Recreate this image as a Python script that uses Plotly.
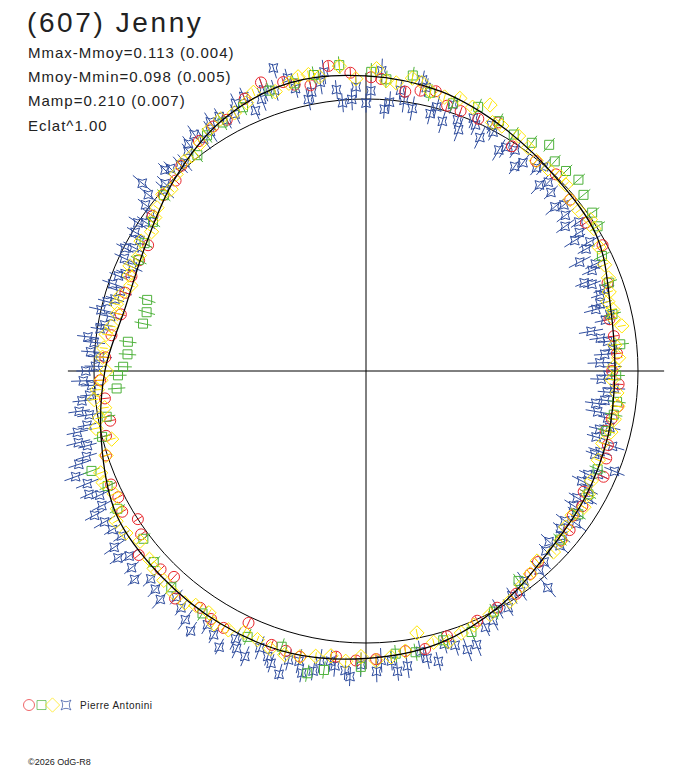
import plotly.graph_objects as go

# (607) Jenny - polar lightcurve: angle = rotation phase (deg), radius = relative flux (% of mean)
CURVE_PHASE = [0, 15, 30, 45, 60, 75, 90, 105, 120, 135, 150, 165,
               180, 195, 210, 225, 240, 255, 270, 285, 300, 315, 330, 345]
CURVE_FLUX = [108.5, 106.4, 102.6, 99.6, 98.2, 93.0, 91.5, 92.1, 93.0, 94.5, 99.3, 103.7,
              105.7, 107.4, 107.2, 106.6, 105.9, 100.7, 96.0, 91.5, 93.4, 99.6, 106.2, 109.6]

RED_PHASE = [3, 8, 14, 20, 24, 33, 39, 50, 62, 78, 86, 93, 98, 104, 110, 114, 119, 125, 131, 138,
             146, 156, 163, 172, 178, 186, 193, 199, 205, 209, 215, 220, 226, 231, 234, 237, 243,
             246, 252, 259, 264, 268, 273, 278, 292, 300, 306, 311, 318, 324, 331, 336, 340, 344,
             349, 353, 357,
             1, 11, 17, 28, 44, 56, 70, 82, 90, 101, 107, 122, 128, 141, 151, 168, 182, 196, 212,
             223, 240, 256, 283, 288, 296, 315, 328, 346]
RED_FLUX = [107.5, 103.7, 106.0, 101.7, 101.5, 98.5, 99.3, 98.0, 98.5, 91.5, 92.5, 93.0, 93.5, 90.8,
            94.0, 95.6, 91.5, 92.8, 95.0, 94.5, 98.8, 100.5, 102.0, 104.0, 106.0, 105.6, 107.8,
            106.5, 102.2, 108.0, 106.3, 109.2, 105.0, 107.5, 102.2, 100.0, 102.2, 102.6, 100.5,
            95.8, 96.5, 97.8, 96.0, 94.5, 93.0, 92.5, 97.0, 98.6, 101.5, 104.5, 105.6, 109.6,
            112.9, 110.5, 107.0, 113.0, 109.8,
            108.0, 105.0, 102.0, 103.5, 100.5, 97.5, 94.5, 92.0, 90.5, 92.0, 93.0, 93.8, 95.0,
            96.0, 99.5, 104.5, 106.5, 107.0, 107.5, 103.5, 103.5, 98.5, 92.5, 93.0, 92.8, 99.0,
            106.0, 108.5]
RED_ERR = 1.8

GREEN_PHASE = [4, 9, 13, 18, 28, 36, 39, 42, 45, 48, 51, 58, 64, 84, 91, 97, 104, 113, 124, 144,
               152, 164, 174, 181, 188, 191, 197, 214, 233, 241, 250, 260, 266, 269, 271, 274,
               277, 282, 285, 288, 296, 305, 322, 326, 335, 341, 350, 355,
               1, 23, 32, 55, 70, 77, 100, 119, 131, 158, 170, 204, 222, 228, 246, 256, 300, 311,
               330, 346]
GREEN_FLUX = [107.5, 110.0, 105.0, 103.5, 104.0, 103.7, 107.0, 103.7, 104.0, 105.1, 102.9, 100.4,
              96.5, 94.0, 92.0, 93.0, 91.0, 92.5, 94.2, 95.4, 100.2, 103.0, 104.5, 108.8, 111.0,
              113.2, 106.0, 107.5, 102.5, 104.5, 107.4, 96.8, 91.9, 91.2, 89.3, 87.9, 88.2, 83.8,
              83.5, 84.6, 93.0, 95.6, 100.7, 104.5, 107.0, 109.0, 110.5, 112.9,
              110.0, 105.5, 102.5, 101.5, 95.0, 93.0, 92.5, 93.5, 94.5, 103.5, 105.0, 107.0, 107.0,
              105.0, 104.0, 100.0, 94.0, 98.5, 105.5, 109.0]
GREEN_ERR = 3.2

YELLOW_PHASE = [2, 6, 11, 16, 22, 25, 29, 36, 42, 47, 53, 58, 66, 72, 76, 80, 84, 89, 95, 101,
                107, 116, 122, 128, 134, 141, 148, 153, 160, 166, 169, 175, 181, 184, 190, 196,
                202, 208, 213, 218, 224, 229, 233, 239, 244, 249, 255, 258, 262, 266, 270, 275,
                280, 283, 287, 290, 294, 297, 303, 308, 313, 316, 321, 327, 333, 338, 342, 347,
                351, 355, 358,
                4, 9, 13, 19, 27, 33, 39, 45, 50, 56, 62, 69, 74, 78, 87, 92, 98, 104, 111, 119,
                125, 131, 138, 144, 157, 163, 172, 178, 187, 193, 199, 205, 211, 216, 221, 227,
                236, 241, 247, 252, 260, 264, 268, 273, 278, 285, 292, 300, 306, 311, 319, 324,
                330, 336, 345, 349]
YELLOW_FLUX = [111.2, 106.5, 108.0, 104.8, 104.6, 107.9, 103.0, 101.5, 100.0, 100.4, 98.0, 98.8,
               96.0, 94.0, 93.5, 95.5, 92.0, 91.2, 92.6, 93.0, 91.0, 92.2, 94.5, 93.2, 95.8, 96.0,
               99.8, 100.5, 102.5, 102.8, 98.1, 105.5, 105.0, 107.0, 106.5, 108.5, 106.5, 107.8,
               106.0, 108.2, 107.0, 105.5, 104.0, 107.2, 103.0, 104.5, 96.8, 101.5, 97.0, 99.0,
               95.5, 96.8, 95.0, 93.8, 94.5, 92.0, 95.0, 93.5, 94.0, 97.5, 98.0, 100.5, 101.8,
               105.8, 106.5, 110.5, 108.0, 111.0, 109.5, 112.5, 107.5,
               107.0, 109.0, 105.5, 106.0, 102.5, 103.0, 99.5, 101.0, 98.0, 99.5, 97.0, 95.5, 92.5,
               93.0, 93.0, 90.5, 93.5, 92.8, 91.5, 93.5, 92.5, 95.0, 94.0, 97.5, 101.5, 104.0,
               104.0, 106.5, 105.5, 107.8, 108.0, 106.0, 108.5, 106.5, 108.0, 106.5, 106.5, 104.5,
               105.0, 100.5, 99.5, 100.5, 97.5, 97.0, 96.5, 95.0, 94.0, 95.5, 96.0, 99.0, 102.0,
               103.5, 107.0, 108.0, 109.5, 111.0]
YELLOW_ERR = 1.5

BLUE_PHASE = [0, 3, 5, 7, 10, 12, 15, 17, 20, 23,
              26, 28, 31, 34, 37, 40, 43, 46, 49, 52,
              55, 58, 61, 63, 66, 69, 72, 75, 78, 80,
              83, 86, 89, 92, 95, 98, 101, 104, 107, 110,
              112, 115, 118, 121, 124, 127, 130, 133, 137, 140,
              143, 147, 151, 155, 158, 162, 166, 169, 172, 175,
              178, 181, 184, 187, 190, 193, 196, 199, 203, 206,
              210, 214, 218, 222, 226, 230, 233, 236, 240, 243,
              246, 250, 253, 256, 259, 262, 265, 268, 271, 274,
              277, 280, 283, 286, 289, 292, 295, 298, 301, 304,
              307, 310, 313, 316, 319, 322, 325, 328, 331, 334,
              337, 340, 343, 346, 349, 352, 355, 358,
              1, 4, 8, 11, 14, 18, 21, 24, 27, 32,
              36, 41, 44, 50, 54, 57, 60, 65, 68, 71, 74, 77, 82, 85, 88, 91, 94, 97, 100,
              103, 106, 109, 114, 117, 120, 123, 126, 129, 132, 135, 139, 145, 149, 153, 160,
              164, 168, 174, 177,
              183, 186, 189, 192, 195, 198, 201, 205, 208, 212, 216, 220, 224, 228, 232, 235,
              238, 242, 245, 248, 252, 255, 258, 261, 264, 267, 270, 273, 276, 279,
              282, 285, 288, 291, 294, 297, 300, 303, 306, 309, 312, 315, 318, 321, 324, 327,
              330, 333, 336, 339, 342, 345, 348, 351, 354, 357]
BLUE_FLUX = [98.5, 110.5, 99.2, 104.0, 98.0, 106.5, 100.5, 96.0, 98.3, 101.0,
             95.5, 99.5, 94.8, 98.0, 95.9, 97.5, 93.5, 94.5, 92.0, 93.0,
             95.5, 90.5, 92.5, 88.2, 91.0, 89.0, 90.5, 87.5, 90.0, 84.0,
             89.5, 88.0, 90.5, 86.5, 89.0, 85.3, 90.5, 88.5, 94.8, 89.5,
             98.5, 90.0, 92.5, 90.5, 93.0, 91.5, 94.5, 92.0, 96.0, 104.0,
             96.5, 98.5, 100.0, 104.0, 108.5, 106.0, 110.0, 105.0, 109.5, 107.0,
             110.5, 108.0, 110.4, 107.5, 112.0, 109.5, 116.0, 111.0, 114.0, 109.5,
             112.0, 115.3, 110.5, 113.0, 110.0, 112.5, 114.2, 108.5, 111.0, 109.0,
             111.5, 113.6, 107.5, 109.0, 104.5, 106.5, 102.0, 104.0, 99.5, 101.5,
             103.0, 97.5, 100.0, 96.0, 98.5, 95.5, 98.0, 96.5, 99.0, 97.5,
             101.5, 107.4, 101.0, 103.5, 101.5, 106.0, 104.0, 108.0, 105.5, 109.5,
             104.0, 110.0, 116.5, 107.0, 104.5, 111.0, 99.0, 104.5,
             103.0, 96.5, 100.5, 109.0, 97.5, 103.0, 95.0, 99.0, 101.5, 97.0,
             93.0, 99.5, 96.5, 95.0, 90.5, 93.5, 95.0, 93.0, 86.5, 92.5, 89.5, 92.0, 87.0, 91.0,
             86.0, 89.0, 91.5, 88.5, 86.5,
             92.0, 88.0, 91.0, 93.5, 89.0, 94.5, 91.0, 95.5, 92.0, 96.0, 93.5, 97.0, 99.0, 101.5,
             103.0, 109.0, 104.5, 108.0, 111.0, 106.5,
             112.5, 109.0, 108.0, 113.5, 110.0, 113.0, 109.0, 112.5, 115.0, 110.0, 113.0, 108.5,
             111.5, 114.5, 110.5, 113.0, 110.0, 113.0, 108.0, 110.5, 111.0, 106.0, 108.5, 103.0,
             105.0, 101.0, 103.0, 98.0, 100.5, 99.0,
             96.0, 98.5, 95.0, 97.5, 94.0, 99.5, 96.0, 100.0, 98.0, 103.0, 99.5, 104.5, 102.0,
             104.0, 107.5, 105.0, 108.0, 106.0, 110.5, 107.0, 108.5, 111.5, 102.0, 107.5, 104.0,
             100.0]
BLUE_ERR = [3.5, 4.5, 4.0, 3.5, 4.5, 3.5, 4.0, 4.5, 3.5, 4.0,
            4.5, 3.5, 4.5, 3.5, 4.0, 3.5, 4.5, 3.5, 4.5, 4.0,
            3.5, 4.5, 3.5, 4.5, 4.0, 3.5, 3.5, 4.5, 4.0, 4.5,
            3.5, 4.0, 3.5, 4.0, 3.5, 4.0, 3.5, 4.0, 4.5, 3.5,
            4.0, 3.5, 4.0, 3.5, 3.5, 4.0, 3.5, 4.0, 3.5, 4.5,
            4.0, 3.5, 4.0, 3.5, 4.5, 4.0, 3.5, 4.0, 4.5, 3.5,
            4.0, 4.5, 3.5, 4.0, 3.5, 4.5, 4.0, 3.5, 4.0, 4.5,
            3.5, 4.0, 3.5, 4.5, 4.0, 3.5, 4.0, 3.5, 4.5, 4.0,
            3.5, 4.5, 4.0, 4.5, 3.5, 4.0, 3.5, 4.5, 4.0, 3.5,
            4.0, 3.5, 4.5, 3.5, 4.0, 3.5, 4.0, 4.5, 3.5, 4.0,
            3.5, 4.5, 4.0, 3.5, 4.0, 3.5, 4.5, 4.0, 3.5, 4.0,
            3.5, 4.5, 4.0, 3.5, 4.0, 4.5, 3.5, 4.0,
            4.0, 3.5, 4.5, 3.5, 4.0, 3.5, 4.5, 4.0, 3.5, 4.5,
            3.5, 4.0, 4.5, 3.5, 4.0, 3.5, 4.5, 4.0, 3.5, 4.0, 4.5, 3.5, 4.0, 3.5, 4.5, 3.5,
            4.0, 3.5, 4.5,
            4.0, 3.5, 4.5, 3.5, 4.0, 3.5, 4.0, 4.5, 3.5, 4.0, 3.5, 4.5, 4.0, 3.5, 4.0, 4.5,
            3.5, 4.0, 3.5, 4.5,
            3.5, 4.0, 4.5, 3.5, 4.0, 3.5, 4.5, 4.0, 3.5, 4.0, 4.5, 3.5, 4.0, 3.5, 4.0, 4.5,
            3.5, 4.0, 3.5, 4.5, 4.0, 3.5, 4.0, 4.5, 3.5, 4.0, 3.5, 4.5, 4.0, 3.5,
            4.0, 3.5, 4.5, 3.5, 4.0, 3.5, 4.5, 4.0, 3.5, 4.0, 4.5, 3.5, 4.0, 3.5, 4.0, 4.5,
            3.5, 4.0, 3.5, 4.5, 4.0, 3.5, 4.0, 4.5, 3.5, 4.0]

STATS = ["Mmax-Mmoy=0.113 (0.004)", "Mmoy-Mmin=0.098 (0.005)", "Mamp=0.210 (0.007)", "Eclat^1.00"]

RED = "#e8262b"
GREEN = "#4fb23c"
YELLOW = "#ffe600"
BLUE = "#2f4d9e"

# geometry (pixels)
W, H = 688, 768
CX, CY = 366, 371
PX_PER_UNIT = 2.72          # radius of the mean-flux circle = 272 px
R_MAX = 118.0
CROSS = 109.6
RPX = R_MAX * PX_PER_UNIT


def error_segments(phase, flux, err):
    th, rr = [], []
    for p, f, e in zip(phase, flux, err):
        th += [p, p, None]
        rr += [f - e, f + e, None]
    return th, rr


fig = go.Figure()

# cross hair
fig.add_trace(go.Scatterpolar(theta=[0, 180], r=[CROSS, CROSS], mode="lines",
                              line=dict(color="black", width=1), hoverinfo="skip"))
fig.add_trace(go.Scatterpolar(theta=[90, 270], r=[CROSS, CROSS], mode="lines",
                              line=dict(color="black", width=1), hoverinfo="skip"))

# blue first (underneath), then the others
series = [
    (BLUE_PHASE, BLUE_FLUX, BLUE_ERR, BLUE, "star-square-open", 8),
    (RED_PHASE, RED_FLUX, [RED_ERR] * len(RED_PHASE), RED, "circle-open", 11),
    (GREEN_PHASE, GREEN_FLUX, [GREEN_ERR] * len(GREEN_PHASE), GREEN, "square-open", 9),
    (YELLOW_PHASE, YELLOW_FLUX, [YELLOW_ERR] * len(YELLOW_PHASE), YELLOW, "diamond-open", 11),
]

for ph, fl, er, col, sym, size in series:
    th, rr = error_segments(ph, fl, er)
    fig.add_trace(go.Scatterpolar(theta=th, r=rr, mode="lines", connectgaps=False,
                                  line=dict(color=col, width=1), hoverinfo="skip"))
    fig.add_trace(go.Scatterpolar(theta=ph, r=fl, mode="markers", cliponaxis=False,
                                  marker=dict(symbol=sym, size=size, color=col,
                                              line=dict(color=col, width=1))))

# fitted lightcurve
fig.add_trace(go.Scatterpolar(theta=CURVE_PHASE + CURVE_PHASE[:1], r=CURVE_FLUX + CURVE_FLUX[:1],
                              mode="lines", line=dict(color="black", width=1.3, shape="spline"),
                              hoverinfo="skip"))

# legend key, bottom left
fig.add_trace(go.Scatter(x=[29, 41.5, 52.5, 66], y=[0.5] * 4, mode="markers",
                         marker=dict(symbol=["circle-open", "square-open", "diamond-open", "star-square-open"],
                                     size=[11, 9, 11, 9], color=[RED, GREEN, YELLOW, BLUE],
                                     line=dict(width=1, color=[RED, GREEN, YELLOW, BLUE])),
                         xaxis="x", yaxis="y", hoverinfo="skip"))

font = "Liberation Sans, Arial, sans-serif"
ann = [dict(text='<span style="letter-spacing:2.6px">(607) Jenny</span>', x=25 / W, y=1 - 23 / H,
            font=dict(family=font, size=28, color="#222222"))]
for i, s in enumerate(STATS):
    ann.append(dict(text='<span style="letter-spacing:1px">%s</span>' % s, x=26 / W,
                    y=1 - (52 + 24.4 * i) / H, font=dict(family=font, size=15, color="#222222")))
ann.append(dict(text='<span style="letter-spacing:0.5px">Pierre Antonini</span>', x=78 / W, y=1 - 705 / H,
                font=dict(family=font, size=10, color="#222222")))
ann.append(dict(text="©2026 OdG-R8", x=26 / W, y=1 - 762 / H,
                font=dict(family=font, size=9, color="#222222")))
for a in ann:
    a.update(xref="paper", yref="paper", xanchor="left", yanchor="middle", showarrow=False)

fig.update_layout(
    width=W, height=H, margin=dict(l=0, r=0, t=0, b=0),
    paper_bgcolor="white", plot_bgcolor="rgba(0,0,0,0)", showlegend=False,
    annotations=ann,
    polar=dict(
        domain=dict(x=[(CX - RPX) / W, (CX + RPX) / W],
                    y=[(H - CY - RPX) / H, (H - CY + RPX) / H]),
        bgcolor="rgba(0,0,0,0)",
        angularaxis=dict(rotation=90, direction="clockwise", showgrid=False, showline=False,
                         showticklabels=False, ticks=""),
        radialaxis=dict(range=[0, R_MAX], tickvals=[100], showgrid=True, gridcolor="black",
                        gridwidth=1, showline=False, showticklabels=False, ticks=""),
    ),
    xaxis=dict(domain=[0, 0.25], range=[0, 172], visible=False),
    yaxis=dict(domain=[0.047, 0.117], range=[0, 1], visible=False),
)

# page body has a default 8px margin; drop it so the figure fills the window exactly
fig.write_html("out.html", config={"displayModeBar": False},
               post_script="document.body.style.margin='0';")
